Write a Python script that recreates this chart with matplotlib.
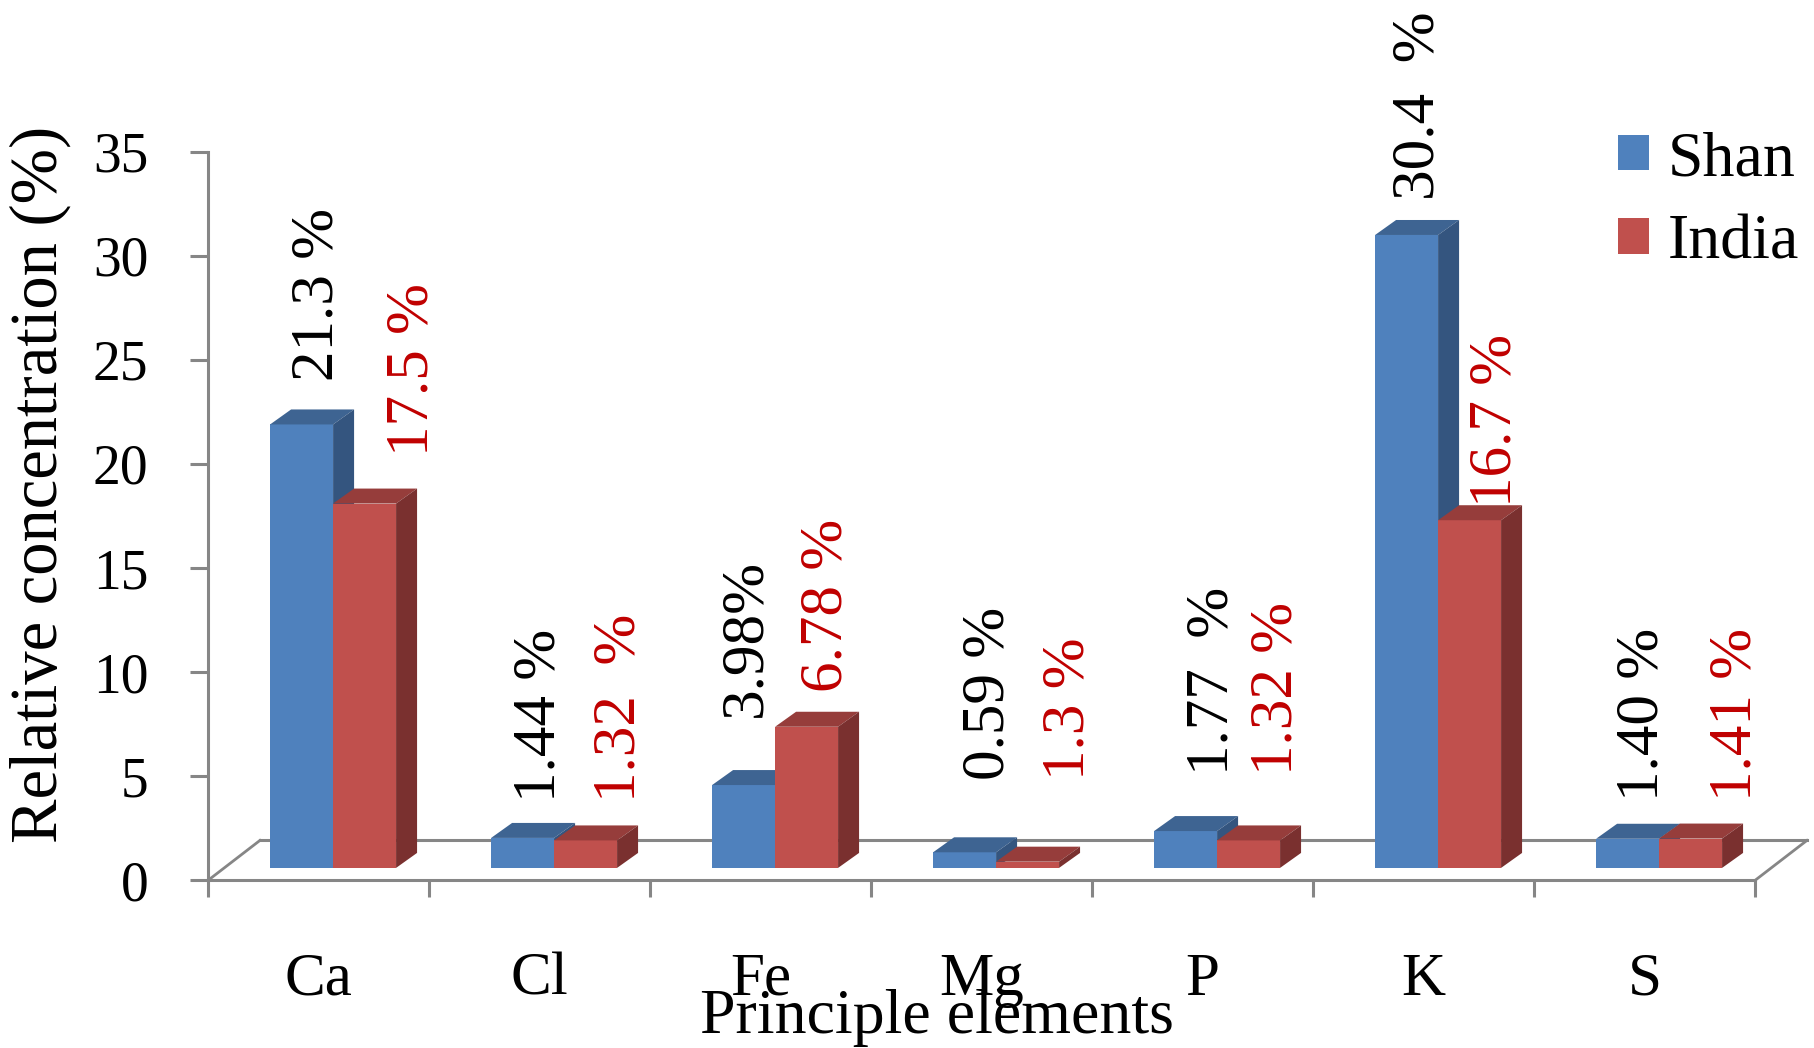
import matplotlib
matplotlib.use("Agg")
import matplotlib.pyplot as plt
from matplotlib.patches import Polygon, Patch
import numpy as np

# ---- data ----
elements = ["Ca", "Cl", "Fe", "Mg", "P", "K", "S"]
shan = [21.3, 1.44, 3.98, 0.75, 1.77, 30.4, 1.40]
india = [17.5, 1.32, 6.78, 0.30, 1.32, 16.7, 1.41]
shan_labels = ["21.3 %", "1.44 %", "3.98%", "0.59 %", "1.77  %", "30.4  %", "1.40 %"]
india_labels = ["17.5 %", "1.32  %", "6.78 %", "1.3 %", "1.32 %", "16.7 %", "1.41 %"]
series_names = ["Shan", "India"]
yticks = [0, 5, 10, 15, 20, 25, 30, 35]

# ---- layout (label anchor positions, in axis units) ----
shan_lab_x = [0.498, 1.502, 2.434, 3.534, 4.548, 5.477, 6.493]
shan_lab_y = [24.0, 3.77, 7.85, 4.82, 5.06, 32.7, 3.82]
india_lab_x = [0.928, 1.864, 2.80, 3.896, 4.837, 5.828, 6.912]
india_lab_y = [20.4, 3.77, 9.05, 4.82, 5.06, 17.94, 3.82]

plt.rcParams['font.family'] = ['Liberation Serif', 'DejaVu Serif']

W, H = 1814, 1048
fig = plt.figure(figsize=(W / 100, H / 100), dpi=100)
x0_px, y0_px = 208, 880.4
px_x, px_y = 221.0, 20.82
xmax = 7.25
ax = fig.add_axes([x0_px / W, (H - y0_px) / H, px_x * xmax / W, px_y * 35 / H])
ax.set_xlim(0, xmax)
ax.set_ylim(0, 35)

grey = '#868686'
for s in ['top', 'right']:
    ax.spines[s].set_visible(False)
ax.spines['left'].set_color(grey)
ax.spines['left'].set_linewidth(2.2)
ax.spines['bottom'].set_color(grey)
ax.spines['bottom'].set_linewidth(2.2)
ax.spines['bottom'].set_bounds(0, 7)

ax.set_yticks(yticks)
ax.set_yticklabels([str(t) for t in yticks], fontsize=40)
ax.tick_params(axis='y', length=13, width=2.2, color=grey, pad=30)
ax.set_xticks(range(8))
ax.set_xticklabels([])
ax.tick_params(axis='x', length=12, width=2.2, color=grey)

# floor
fdx, fdy = 0.235, 1.92
n = len(elements)
ax.plot([fdx, n + fdx], [fdy, fdy], color=grey, lw=2.2, clip_on=False, zorder=1)
ax.plot([0, fdx], [0, fdy], color=grey, lw=2.0, clip_on=False, zorder=1)
ax.plot([n, n + fdx], [0, fdy], color=grey, lw=2.0, clip_on=False, zorder=1)

# bars
base = 0.6
bw = 0.285
off = [0.281, 0.566]
ddx, ddy = 0.095, 0.72
cols = [('#4F81BD', '#3E6492', '#34557F'), ('#C0504D', '#963D3B', '#7A302F')]
xs = np.arange(n)
for k, vals in enumerate([shan, india]):
    front, top, side = cols[k]
    for i, v in enumerate(vals):
        xl = xs[i] + off[k]
        xr = xl + bw
        t = base + v
        ax.bar(xl, v, width=bw, bottom=base, align='edge', color=front,
               edgecolor='none', zorder=3 + i * 2 + k * 0.5, clip_on=False)
        ax.add_patch(Polygon([(xl, t), (xr, t), (xr + ddx, t + ddy), (xl + ddx, t + ddy)],
                             closed=True, facecolor=top, edgecolor='none',
                             zorder=3 + i * 2 + k * 0.5, clip_on=False))
        ax.add_patch(Polygon([(xr, base), (xr, t), (xr + ddx, t + ddy), (xr + ddx, base + ddy)],
                             closed=True, facecolor=side, edgecolor='none',
                             zorder=3 + i * 2 + k * 0.5, clip_on=False))

# data labels
for i in range(n):
    ax.text(shan_lab_x[i], shan_lab_y[i], shan_labels[i], rotation=90, ha='center',
            va='bottom', fontsize=44, color='black', zorder=20)
    ax.text(india_lab_x[i], india_lab_y[i], india_labels[i], rotation=90, ha='center',
            va='bottom', fontsize=44, color='#C00000', zorder=20)

# category labels
for i, e in enumerate(elements):
    ax.text(i + 0.5, -5.5, e, ha='center', va='baseline', fontsize=44)

fig.text(937 / W, 1 - 1033 / H, "Principle elements", ha='center', va='baseline', fontsize=46)
fig.text(40 / W, 1 - 484 / H, "Relative concentration (%)", ha='center', va='center',
         rotation=90, fontsize=48)

handles = [Patch(facecolor=cols[0][0]), Patch(facecolor=cols[1][0])]
fig.legend(handles, series_names, loc='center left', bbox_to_anchor=(1618 / W, 1 - 202 / H),
           frameon=False, fontsize=46, handlelength=0.48, handleheight=0.48,
           handletextpad=0.3, labelspacing=0.4, borderpad=0, borderaxespad=0)

fig.savefig('out.png', dpi=100, facecolor='white')
